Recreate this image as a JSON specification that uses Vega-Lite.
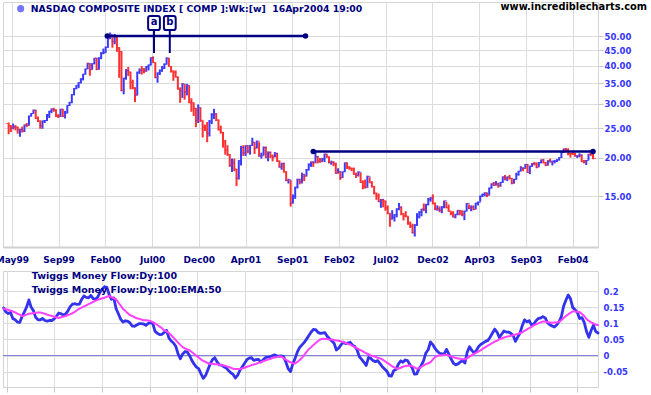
{
"$schema": "https://vega.github.io/schema/vega-lite/v6.json",
"background": "white",
"padding": {"left": -6, "top": 1, "right": 0, "bottom": 0},
"spacing": 24,
"bounds": "flush",
"resolve": {"scale": {"color": "independent"}, "legend": {"color": "independent"}},
"config": {"view": {"stroke": "#d4d4d4", "strokeWidth": 1}, "axis": {"gridColor": "#dcdcdc", "gridOpacity": 1, "title": null, "labelOverlap": false}},
"datasets": {
"tl": [{"d1": "2000-03-01", "d2": "2001-11-06", "v": 50}, {"d1": "2001-11-30", "d2": "2004-04-16", "v": 21}],
"mk": [{"d": "2000-07-24", "lab": "a", "lo": 44.0, "hi": 55.1}, {"d": "2000-09-11", "lab": "b", "lo": 44.0, "hi": 55.1}],
"w": [
{"d":"1999-04-30","o":25.91,"h":26.1,"l":23.9,"c":25.43,"t":0.148,"e":0.146},
{"d":"1999-05-07","o":25.43,"h":25.6,"l":24.3,"c":25.03,"t":0.135,"e":0.144},
{"d":"1999-05-14","o":25.03,"h":25.9,"l":24.8,"c":25.27,"t":0.131,"e":0.142},
{"d":"1999-05-21","o":25.27,"h":25.6,"l":24.6,"c":25.2,"t":0.134,"e":0.14},
{"d":"1999-05-28","o":25.2,"h":25.3,"l":24.0,"c":24.71,"t":0.115,"e":0.137},
{"d":"1999-06-04","o":24.71,"h":24.9,"l":23.45,"c":24.78,"t":0.111,"e":0.134},
{"d":"1999-06-11","o":24.78,"h":25.3,"l":24.2,"c":24.47,"t":0.104,"e":0.13},
{"d":"1999-06-18","o":24.47,"h":25.7,"l":24.3,"c":25.63,"t":0.103,"e":0.127},
{"d":"1999-06-25","o":25.63,"h":26.0,"l":25.2,"c":25.53,"t":0.121,"e":0.123},
{"d":"1999-07-02","o":25.53,"h":27.45,"l":25.5,"c":27.41,"t":0.135,"e":0.124},
{"d":"1999-07-09","o":27.41,"h":28.0,"l":27.3,"c":27.93,"t":0.151,"e":0.127},
{"d":"1999-07-16","o":27.93,"h":28.75,"l":27.9,"c":28.64,"t":0.173,"e":0.13},
{"d":"1999-07-23","o":28.64,"h":28.7,"l":26.8,"c":26.92,"t":0.15,"e":0.131},
{"d":"1999-07-30","o":26.92,"h":27.3,"l":26.2,"c":26.38,"t":0.139,"e":0.132},
{"d":"1999-08-06","o":26.38,"h":26.5,"l":24.9,"c":25.47,"t":0.118,"e":0.133},
{"d":"1999-08-13","o":25.47,"h":26.5,"l":24.9,"c":26.37,"t":0.111,"e":0.134},
{"d":"1999-08-20","o":26.37,"h":26.6,"l":26.0,"c":26.48,"t":0.111,"e":0.134},
{"d":"1999-08-27","o":26.48,"h":27.8,"l":26.4,"c":27.58,"t":0.115,"e":0.132},
{"d":"1999-09-03","o":27.58,"h":28.45,"l":27.0,"c":28.43,"t":0.109,"e":0.13},
{"d":"1999-09-10","o":28.43,"h":29.0,"l":28.0,"c":28.87,"t":0.107,"e":0.127},
{"d":"1999-09-17","o":28.87,"h":29.15,"l":28.3,"c":28.69,"t":0.109,"e":0.125},
{"d":"1999-09-24","o":28.69,"h":28.8,"l":27.2,"c":27.4,"t":0.109,"e":0.123},
{"d":"1999-10-01","o":27.4,"h":27.8,"l":27.0,"c":27.36,"t":0.114,"e":0.121},
{"d":"1999-10-08","o":27.36,"h":28.9,"l":27.2,"c":28.86,"t":0.122,"e":0.119},
{"d":"1999-10-15","o":28.86,"h":28.9,"l":27.2,"c":27.31,"t":0.132,"e":0.117},
{"d":"1999-10-22","o":27.31,"h":28.5,"l":26.9,"c":28.01,"t":0.13,"e":0.119},
{"d":"1999-10-29","o":28.01,"h":29.7,"l":28.0,"c":29.67,"t":0.126,"e":0.121},
{"d":"1999-11-05","o":29.67,"h":30.5,"l":29.6,"c":30.29,"t":0.129,"e":0.123},
{"d":"1999-11-12","o":30.29,"h":32.3,"l":30.2,"c":32.21,"t":0.139,"e":0.126},
{"d":"1999-11-19","o":32.21,"h":33.8,"l":32.0,"c":33.7,"t":0.152,"e":0.128},
{"d":"1999-11-26","o":33.7,"h":34.5,"l":33.5,"c":34.48,"t":0.16,"e":0.132},
{"d":"1999-12-03","o":34.48,"h":35.3,"l":33.8,"c":35.2,"t":0.161,"e":0.136},
{"d":"1999-12-10","o":35.2,"h":36.4,"l":35.0,"c":36.2,"t":0.159,"e":0.141},
{"d":"1999-12-17","o":36.2,"h":37.6,"l":35.8,"c":37.53,"t":0.16,"e":0.146},
{"d":"1999-12-24","o":37.53,"h":39.1,"l":37.4,"c":39.04,"t":0.175,"e":0.149},
{"d":"1999-12-31","o":39.04,"h":40.9,"l":39.0,"c":40.69,"t":0.185,"e":0.153},
{"d":"2000-01-07","o":40.69,"h":40.7,"l":37.1,"c":38.82,"t":0.181,"e":0.156},
{"d":"2000-01-14","o":38.82,"h":40.7,"l":38.8,"c":40.64,"t":0.18,"e":0.16},
{"d":"2000-01-21","o":40.64,"h":42.4,"l":40.4,"c":42.35,"t":0.187,"e":0.163},
{"d":"2000-01-28","o":42.35,"h":42.4,"l":38.7,"c":38.87,"t":0.177,"e":0.167},
{"d":"2000-02-04","o":38.87,"h":42.6,"l":38.8,"c":42.44,"t":0.175,"e":0.17},
{"d":"2000-02-11","o":42.44,"h":44.3,"l":42.0,"c":43.95,"t":0.182,"e":0.173},
{"d":"2000-02-18","o":43.95,"h":45.5,"l":43.6,"c":44.11,"t":0.197,"e":0.176},
{"d":"2000-02-25","o":44.11,"h":46.2,"l":44.1,"c":45.9,"t":0.207,"e":0.178},
{"d":"2000-03-03","o":45.9,"h":49.2,"l":45.8,"c":49.14,"t":0.214,"e":0.18},
{"d":"2000-03-10","o":49.14,"h":51.32,"l":48.8,"c":50.48,"t":0.212,"e":0.183},
{"d":"2000-03-17","o":50.48,"h":50.5,"l":45.8,"c":47.98,"t":0.189,"e":0.185},
{"d":"2000-03-24","o":47.98,"h":50.8,"l":47.0,"c":49.64,"t":0.175,"e":0.182},
{"d":"2000-03-31","o":49.64,"h":49.7,"l":44.4,"c":45.73,"t":0.179,"e":0.178},
{"d":"2000-04-07","o":45.73,"h":46.0,"l":36.5,"c":44.46,"t":0.146,"e":0.175},
{"d":"2000-04-14","o":44.46,"h":44.6,"l":33.0,"c":33.21,"t":0.13,"e":0.165},
{"d":"2000-04-21","o":33.21,"h":36.5,"l":32.27,"c":36.43,"t":0.113,"e":0.155},
{"d":"2000-04-28","o":36.43,"h":39.0,"l":36.0,"c":38.61,"t":0.104,"e":0.145},
{"d":"2000-05-05","o":38.61,"h":39.6,"l":37.0,"c":38.17,"t":0.108,"e":0.139},
{"d":"2000-05-12","o":38.17,"h":38.2,"l":33.5,"c":35.29,"t":0.107,"e":0.132},
{"d":"2000-05-19","o":35.29,"h":36.0,"l":33.5,"c":33.9,"t":0.102,"e":0.126},
{"d":"2000-05-26","o":33.9,"h":34.0,"l":30.42,"c":32.05,"t":0.092,"e":0.123},
{"d":"2000-06-02","o":32.05,"h":38.2,"l":32.0,"c":38.13,"t":0.091,"e":0.119},
{"d":"2000-06-09","o":38.13,"h":39.2,"l":37.6,"c":38.74,"t":0.095,"e":0.116},
{"d":"2000-06-16","o":38.74,"h":39.9,"l":37.4,"c":38.6,"t":0.099,"e":0.114},
{"d":"2000-06-23","o":38.6,"h":39.3,"l":37.8,"c":38.45,"t":0.099,"e":0.112},
{"d":"2000-06-30","o":38.45,"h":39.9,"l":38.2,"c":39.66,"t":0.098,"e":0.11},
{"d":"2000-07-07","o":39.66,"h":40.3,"l":38.6,"c":40.23,"t":0.094,"e":0.11},
{"d":"2000-07-14","o":40.23,"h":42.6,"l":40.1,"c":42.46,"t":0.1,"e":0.109},
{"d":"2000-07-21","o":42.46,"h":42.89,"l":40.8,"c":40.95,"t":0.102,"e":0.107},
{"d":"2000-07-28","o":40.95,"h":41.0,"l":36.4,"c":36.63,"t":0.099,"e":0.104},
{"d":"2000-08-04","o":36.63,"h":38.0,"l":35.2,"c":37.87,"t":0.075,"e":0.1},
{"d":"2000-08-11","o":37.87,"h":38.9,"l":37.3,"c":38.49,"t":0.069,"e":0.095},
{"d":"2000-08-18","o":38.49,"h":39.9,"l":38.2,"c":39.3,"t":0.065,"e":0.09},
{"d":"2000-08-25","o":39.3,"h":40.7,"l":39.0,"c":40.42,"t":0.066,"e":0.085},
{"d":"2000-09-01","o":40.42,"h":42.59,"l":40.4,"c":42.34,"t":0.072,"e":0.078},
{"d":"2000-09-08","o":42.34,"h":42.4,"l":39.7,"c":39.78,"t":0.078,"e":0.075},
{"d":"2000-09-15","o":39.78,"h":39.9,"l":38.0,"c":38.36,"t":0.055,"e":0.07},
{"d":"2000-09-22","o":38.36,"h":38.6,"l":35.7,"c":38.03,"t":0.045,"e":0.063},
{"d":"2000-09-29","o":38.03,"h":38.6,"l":36.6,"c":36.73,"t":0.039,"e":0.056},
{"d":"2000-10-06","o":36.73,"h":36.9,"l":33.4,"c":33.61,"t":0.029,"e":0.048},
{"d":"2000-10-13","o":33.61,"h":34.0,"l":30.26,"c":33.16,"t":0.005,"e":0.04},
{"d":"2000-10-20","o":33.16,"h":35.1,"l":31.4,"c":34.83,"t":-0.01,"e":0.033},
{"d":"2000-10-27","o":34.83,"h":34.8,"l":31.0,"c":32.78,"t":0.005,"e":0.026},
{"d":"2000-11-03","o":32.78,"h":34.9,"l":32.0,"c":34.51,"t":0.012,"e":0.022},
{"d":"2000-11-10","o":34.51,"h":34.5,"l":30.2,"c":30.28,"t":0.011,"e":0.019},
{"d":"2000-11-17","o":30.28,"h":31.3,"l":28.3,"c":30.27,"t":0.0,"e":0.016},
{"d":"2000-11-24","o":30.27,"h":30.3,"l":27.4,"c":29.04,"t":-0.015,"e":0.011},
{"d":"2000-12-01","o":29.04,"h":29.1,"l":25.2,"c":26.45,"t":-0.027,"e":0.005},
{"d":"2000-12-08","o":26.45,"h":29.9,"l":26.0,"c":29.17,"t":-0.036,"e":-0.001},
{"d":"2000-12-15","o":29.17,"h":29.2,"l":26.2,"c":26.53,"t":-0.041,"e":-0.006},
{"d":"2000-12-22","o":26.53,"h":26.5,"l":23.32,"c":25.17,"t":-0.057,"e":-0.012},
{"d":"2000-12-29","o":25.17,"h":25.7,"l":24.5,"c":24.71,"t":-0.071,"e":-0.017},
{"d":"2001-01-05","o":24.71,"h":26.2,"l":22.5,"c":24.07,"t":-0.062,"e":-0.02},
{"d":"2001-01-12","o":24.07,"h":26.6,"l":23.5,"c":26.26,"t":-0.044,"e":-0.024},
{"d":"2001-01-19","o":26.26,"h":28.0,"l":25.8,"c":27.7,"t":-0.026,"e":-0.026},
{"d":"2001-01-26","o":27.7,"h":28.92,"l":26.8,"c":27.81,"t":-0.013,"e":-0.026},
{"d":"2001-02-02","o":27.81,"h":28.0,"l":26.4,"c":26.6,"t":-0.007,"e":-0.027},
{"d":"2001-02-09","o":26.6,"h":26.7,"l":24.6,"c":24.7,"t":-0.02,"e":-0.027},
{"d":"2001-02-16","o":24.7,"h":25.5,"l":24.0,"c":24.25,"t":-0.029,"e":-0.029},
{"d":"2001-02-23","o":24.25,"h":24.3,"l":21.6,"c":22.62,"t":-0.03,"e":-0.03},
{"d":"2001-03-02","o":22.62,"h":22.9,"l":20.5,"c":21.17,"t":-0.035,"e":-0.031},
{"d":"2001-03-09","o":21.17,"h":22.0,"l":20.3,"c":20.52,"t":-0.039,"e":-0.033},
{"d":"2001-03-16","o":20.52,"h":20.6,"l":18.7,"c":18.9,"t":-0.047,"e":-0.036},
{"d":"2001-03-23","o":18.9,"h":19.9,"l":18.0,"c":19.28,"t":-0.054,"e":-0.038},
{"d":"2001-03-30","o":19.28,"h":19.9,"l":18.1,"c":18.4,"t":-0.059,"e":-0.041},
{"d":"2001-04-06","o":18.4,"h":18.4,"l":16.19,"c":17.2,"t":-0.07,"e":-0.042},
{"d":"2001-04-13","o":17.2,"h":19.65,"l":17.0,"c":19.61,"t":-0.061,"e":-0.042},
{"d":"2001-04-20","o":19.61,"h":21.9,"l":18.9,"c":21.63,"t":-0.045,"e":-0.042},
{"d":"2001-04-27","o":21.63,"h":22.0,"l":20.3,"c":20.75,"t":-0.035,"e":-0.04},
{"d":"2001-05-04","o":20.75,"h":22.0,"l":20.3,"c":21.92,"t":-0.024,"e":-0.038},
{"d":"2001-05-11","o":21.92,"h":22.0,"l":20.7,"c":21.07,"t":-0.013,"e":-0.035},
{"d":"2001-05-18","o":21.07,"h":22.0,"l":20.5,"c":21.99,"t":-0.008,"e":-0.033},
{"d":"2001-05-25","o":21.99,"h":23.28,"l":21.9,"c":22.51,"t":-0.007,"e":-0.03},
{"d":"2001-06-01","o":22.51,"h":22.5,"l":20.6,"c":21.49,"t":-0.015,"e":-0.028},
{"d":"2001-06-08","o":21.49,"h":22.8,"l":21.5,"c":22.65,"t":-0.013,"e":-0.026},
{"d":"2001-06-15","o":22.65,"h":22.5,"l":20.2,"c":20.28,"t":-0.012,"e":-0.023},
{"d":"2001-06-22","o":20.28,"h":20.8,"l":19.9,"c":20.34,"t":-0.02,"e":-0.021},
{"d":"2001-06-29","o":20.34,"h":21.8,"l":20.4,"c":21.61,"t":-0.014,"e":-0.018},
{"d":"2001-07-06","o":21.61,"h":21.8,"l":20.0,"c":20.04,"t":-0.007,"e":-0.016},
{"d":"2001-07-13","o":20.04,"h":21.0,"l":19.5,"c":20.84,"t":-0.005,"e":-0.013},
{"d":"2001-07-20","o":20.84,"h":21.0,"l":20.0,"c":20.29,"t":-0.004,"e":-0.011},
{"d":"2001-07-27","o":20.29,"h":20.5,"l":19.5,"c":20.15,"t":-0.001,"e":-0.008},
{"d":"2001-08-03","o":20.15,"h":20.9,"l":20.1,"c":20.66,"t":0.002,"e":-0.006},
{"d":"2001-08-10","o":20.66,"h":20.8,"l":19.4,"c":19.56,"t":-0.001,"e":-0.005},
{"d":"2001-08-17","o":19.56,"h":19.6,"l":18.6,"c":18.67,"t":-0.002,"e":-0.003},
{"d":"2001-08-24","o":18.67,"h":19.3,"l":18.3,"c":19.16,"t":-0.001,"e":-0.003},
{"d":"2001-08-31","o":19.16,"h":19.3,"l":17.9,"c":18.05,"t":-0.004,"e":-0.008},
{"d":"2001-09-07","o":18.05,"h":18.1,"l":16.8,"c":16.87,"t":-0.021,"e":-0.013},
{"d":"2001-09-14","o":16.87,"h":17.1,"l":16.5,"c":16.95,"t":-0.041,"e":-0.018},
{"d":"2001-09-21","o":16.95,"h":16.9,"l":13.87,"c":14.23,"t":-0.05,"e":-0.021},
{"d":"2001-09-28","o":14.23,"h":15.2,"l":14.2,"c":14.99,"t":-0.026,"e":-0.024},
{"d":"2001-10-05","o":14.99,"h":16.1,"l":14.7,"c":16.05,"t":-0.009,"e":-0.025},
{"d":"2001-10-12","o":16.05,"h":17.1,"l":15.9,"c":17.03,"t":0.011,"e":-0.02},
{"d":"2001-10-19","o":17.03,"h":17.1,"l":16.4,"c":16.71,"t":0.025,"e":-0.014},
{"d":"2001-10-26","o":16.71,"h":17.9,"l":16.5,"c":17.68,"t":0.033,"e":-0.007},
{"d":"2001-11-02","o":17.68,"h":17.7,"l":16.8,"c":17.45,"t":0.041,"e":0.002},
{"d":"2001-11-09","o":17.45,"h":18.4,"l":17.4,"c":18.28,"t":0.051,"e":0.011},
{"d":"2001-11-16","o":18.28,"h":19.2,"l":18.2,"c":18.99,"t":0.062,"e":0.02},
{"d":"2001-11-23","o":18.99,"h":19.45,"l":18.7,"c":19.41,"t":0.073,"e":0.026},
{"d":"2001-11-30","o":19.41,"h":19.5,"l":18.7,"c":19.31,"t":0.081,"e":0.033},
{"d":"2001-12-07","o":19.31,"h":20.99,"l":19.2,"c":20.21,"t":0.08,"e":0.039},
{"d":"2001-12-14","o":20.21,"h":20.3,"l":19.2,"c":19.53,"t":0.072,"e":0.045},
{"d":"2001-12-21","o":19.53,"h":20.0,"l":19.3,"c":19.45,"t":0.069,"e":0.05},
{"d":"2001-12-28","o":19.45,"h":20.0,"l":19.4,"c":19.87,"t":0.07,"e":0.052},
{"d":"2002-01-04","o":19.87,"h":20.65,"l":19.4,"c":20.59,"t":0.071,"e":0.051},
{"d":"2002-01-11","o":20.59,"h":20.6,"l":20.0,"c":20.22,"t":0.06,"e":0.051},
{"d":"2002-01-18","o":20.22,"h":20.2,"l":19.2,"c":19.3,"t":0.052,"e":0.05},
{"d":"2002-01-25","o":19.3,"h":19.6,"l":19.0,"c":19.37,"t":0.045,"e":0.05},
{"d":"2002-02-01","o":19.37,"h":19.5,"l":18.8,"c":19.11,"t":0.038,"e":0.048},
{"d":"2002-02-08","o":19.11,"h":19.3,"l":17.75,"c":17.82,"t":0.017,"e":0.047},
{"d":"2002-02-15","o":17.82,"h":18.5,"l":17.8,"c":18.06,"t":0.023,"e":0.046},
{"d":"2002-02-22","o":18.06,"h":18.1,"l":16.96,"c":17.24,"t":0.033,"e":0.044},
{"d":"2002-03-01","o":17.24,"h":18.05,"l":17.2,"c":18.02,"t":0.041,"e":0.042},
{"d":"2002-03-08","o":18.02,"h":19.3,"l":18.0,"c":19.29,"t":0.037,"e":0.039},
{"d":"2002-03-15","o":19.29,"h":19.3,"l":18.4,"c":18.68,"t":0.039,"e":0.036},
{"d":"2002-03-22","o":18.68,"h":18.8,"l":18.3,"c":18.51,"t":0.041,"e":0.034},
{"d":"2002-03-29","o":18.51,"h":18.6,"l":18.1,"c":18.45,"t":0.032,"e":0.03},
{"d":"2002-04-05","o":18.45,"h":18.6,"l":17.6,"c":17.7,"t":0.028,"e":0.026},
{"d":"2002-04-12","o":17.7,"h":17.9,"l":17.2,"c":17.56,"t":0.018,"e":0.022},
{"d":"2002-04-19","o":17.56,"h":18.1,"l":17.4,"c":17.96,"t":-0.004,"e":0.018},
{"d":"2002-04-26","o":17.96,"h":17.9,"l":16.6,"c":16.63,"t":-0.012,"e":0.015},
{"d":"2002-05-03","o":16.63,"h":16.9,"l":15.8,"c":16.13,"t":-0.021,"e":0.011},
{"d":"2002-05-10","o":16.13,"h":17.0,"l":15.9,"c":16.0,"t":-0.031,"e":0.007},
{"d":"2002-05-17","o":16.0,"h":17.5,"l":16.0,"c":17.41,"t":-0.006,"e":0.004},
{"d":"2002-05-24","o":17.41,"h":17.3,"l":16.55,"c":16.61,"t":-0.009,"e":0.0},
{"d":"2002-05-31","o":16.61,"h":16.8,"l":16.0,"c":16.15,"t":-0.016,"e":-0.002},
{"d":"2002-06-07","o":16.15,"h":16.2,"l":15.2,"c":15.35,"t":-0.019,"e":-0.004},
{"d":"2002-06-14","o":15.35,"h":15.4,"l":14.6,"c":15.04,"t":-0.016,"e":-0.007},
{"d":"2002-06-21","o":15.04,"h":15.3,"l":14.35,"c":14.4,"t":-0.025,"e":-0.009},
{"d":"2002-06-28","o":14.4,"h":14.7,"l":13.75,"c":14.63,"t":-0.035,"e":-0.012},
{"d":"2002-07-05","o":14.63,"h":14.7,"l":13.8,"c":14.48,"t":-0.042,"e":-0.017},
{"d":"2002-07-12","o":14.48,"h":14.5,"l":13.45,"c":13.74,"t":-0.049,"e":-0.022},
{"d":"2002-07-19","o":13.74,"h":14.0,"l":13.1,"c":13.19,"t":-0.063,"e":-0.027},
{"d":"2002-07-26","o":13.19,"h":13.2,"l":11.92,"c":12.62,"t":-0.064,"e":-0.032},
{"d":"2002-08-02","o":12.62,"h":13.5,"l":12.6,"c":12.8,"t":-0.047,"e":-0.036},
{"d":"2002-08-09","o":12.8,"h":13.1,"l":12.4,"c":13.06,"t":-0.043,"e":-0.04},
{"d":"2002-08-16","o":13.06,"h":13.7,"l":12.8,"c":13.61,"t":-0.027,"e":-0.041},
{"d":"2002-08-23","o":13.61,"h":14.25,"l":13.5,"c":13.8,"t":-0.017,"e":-0.038},
{"d":"2002-08-30","o":13.8,"h":13.9,"l":13.0,"c":13.15,"t":-0.021,"e":-0.035},
{"d":"2002-09-06","o":13.15,"h":13.2,"l":12.5,"c":12.95,"t":-0.014,"e":-0.033},
{"d":"2002-09-13","o":12.95,"h":13.4,"l":12.8,"c":12.91,"t":-0.016,"e":-0.032},
{"d":"2002-09-20","o":12.91,"h":12.9,"l":12.1,"c":12.21,"t":-0.028,"e":-0.031},
{"d":"2002-09-27","o":12.21,"h":12.4,"l":11.8,"c":11.99,"t":-0.038,"e":-0.033},
{"d":"2002-10-04","o":11.99,"h":12.2,"l":11.35,"c":11.39,"t":-0.058,"e":-0.037},
{"d":"2002-10-11","o":11.39,"h":12.15,"l":11.08,"c":12.1,"t":-0.057,"e":-0.041},
{"d":"2002-10-18","o":12.1,"h":13.2,"l":12.0,"c":12.87,"t":-0.041,"e":-0.04},
{"d":"2002-10-25","o":12.87,"h":13.4,"l":12.7,"c":13.31,"t":-0.031,"e":-0.035},
{"d":"2002-11-01","o":13.31,"h":13.65,"l":12.9,"c":13.6,"t":-0.016,"e":-0.031},
{"d":"2002-11-08","o":13.6,"h":14.2,"l":13.4,"c":13.59,"t":0.008,"e":-0.027},
{"d":"2002-11-15","o":13.59,"h":14.15,"l":13.2,"c":14.11,"t":0.018,"e":-0.024},
{"d":"2002-11-22","o":14.11,"h":14.8,"l":14.0,"c":14.68,"t":0.042,"e":-0.021},
{"d":"2002-11-29","o":14.68,"h":14.9,"l":14.4,"c":14.79,"t":0.034,"e":-0.013},
{"d":"2002-12-06","o":14.79,"h":15.21,"l":14.1,"c":14.22,"t":0.022,"e":-0.005},
{"d":"2002-12-13","o":14.22,"h":14.3,"l":13.5,"c":13.62,"t":0.013,"e":-0.001},
{"d":"2002-12-20","o":13.62,"h":14.0,"l":13.45,"c":13.63,"t":0.007,"e":0.0},
{"d":"2002-12-27","o":13.63,"h":13.9,"l":13.3,"c":13.48,"t":0.005,"e":0.001},
{"d":"2003-01-03","o":13.48,"h":13.9,"l":13.2,"c":13.87,"t":0.005,"e":0.002},
{"d":"2003-01-10","o":13.87,"h":14.5,"l":13.7,"c":14.48,"t":0.019,"e":0.002},
{"d":"2003-01-17","o":14.48,"h":14.38,"l":13.7,"c":13.76,"t":0.004,"e":0.0},
{"d":"2003-01-24","o":13.76,"h":14.1,"l":13.35,"c":13.42,"t":-0.011,"e":-0.003},
{"d":"2003-01-31","o":13.42,"h":13.4,"l":13.0,"c":13.21,"t":-0.024,"e":-0.005},
{"d":"2003-02-07","o":13.21,"h":13.4,"l":12.8,"c":12.83,"t":-0.029,"e":-0.008},
{"d":"2003-02-14","o":12.83,"h":13.1,"l":12.7,"c":13.1,"t":-0.026,"e":-0.009},
{"d":"2003-02-21","o":13.1,"h":13.5,"l":13.0,"c":13.49,"t":-0.02,"e":-0.01},
{"d":"2003-02-28","o":13.49,"h":13.5,"l":13.0,"c":13.37,"t":-0.016,"e":-0.012},
{"d":"2003-03-07","o":13.37,"h":13.5,"l":12.9,"c":13.05,"t":-0.023,"e":-0.012},
{"d":"2003-03-14","o":13.05,"h":13.45,"l":12.53,"c":13.4,"t":0.01,"e":-0.008},
{"d":"2003-03-21","o":13.4,"h":14.25,"l":13.4,"c":14.21,"t":0.027,"e":-0.004},
{"d":"2003-03-28","o":14.21,"h":14.1,"l":13.6,"c":13.7,"t":0.016,"e":0.001},
{"d":"2003-04-04","o":13.7,"h":14.0,"l":13.4,"c":13.83,"t":0.008,"e":0.005},
{"d":"2003-04-11","o":13.83,"h":14.0,"l":13.5,"c":13.58,"t":0.016,"e":0.009},
{"d":"2003-04-18","o":13.58,"h":14.25,"l":13.6,"c":14.25,"t":0.028,"e":0.013},
{"d":"2003-04-25","o":14.25,"h":14.4,"l":14.0,"c":14.34,"t":0.035,"e":0.017},
{"d":"2003-05-02","o":14.34,"h":15.05,"l":14.4,"c":15.02,"t":0.039,"e":0.022},
{"d":"2003-05-09","o":15.02,"h":15.3,"l":14.9,"c":15.2,"t":0.044,"e":0.026},
{"d":"2003-05-16","o":15.2,"h":15.45,"l":15.0,"c":15.38,"t":0.047,"e":0.031},
{"d":"2003-05-23","o":15.38,"h":15.4,"l":14.9,"c":15.1,"t":0.057,"e":0.035},
{"d":"2003-05-30","o":15.1,"h":16.0,"l":15.1,"c":15.95,"t":0.07,"e":0.039},
{"d":"2003-06-06","o":15.95,"h":16.5,"l":15.9,"c":16.46,"t":0.082,"e":0.043},
{"d":"2003-06-13","o":16.46,"h":16.7,"l":16.2,"c":16.26,"t":0.073,"e":0.046},
{"d":"2003-06-20","o":16.26,"h":16.8,"l":16.3,"c":16.44,"t":0.056,"e":0.05},
{"d":"2003-06-27","o":16.44,"h":16.6,"l":16.0,"c":16.25,"t":0.066,"e":0.053},
{"d":"2003-07-04","o":16.25,"h":16.7,"l":16.1,"c":16.64,"t":0.076,"e":0.056},
{"d":"2003-07-11","o":16.64,"h":17.4,"l":16.6,"c":17.33,"t":0.073,"e":0.058},
{"d":"2003-07-18","o":17.33,"h":17.6,"l":16.9,"c":17.08,"t":0.073,"e":0.06},
{"d":"2003-07-25","o":17.08,"h":17.4,"l":16.8,"c":17.31,"t":0.069,"e":0.061},
{"d":"2003-08-01","o":17.31,"h":17.6,"l":17.0,"c":17.15,"t":0.063,"e":0.063},
{"d":"2003-08-08","o":17.15,"h":17.2,"l":16.4,"c":16.53,"t":0.044,"e":0.065},
{"d":"2003-08-15","o":16.53,"h":17.1,"l":16.5,"c":17.02,"t":0.057,"e":0.067},
{"d":"2003-08-22","o":17.02,"h":17.9,"l":17.0,"c":17.65,"t":0.07,"e":0.07},
{"d":"2003-08-29","o":17.65,"h":18.15,"l":17.5,"c":18.1,"t":0.093,"e":0.072},
{"d":"2003-09-05","o":18.1,"h":18.8,"l":18.1,"c":18.58,"t":0.111,"e":0.077},
{"d":"2003-09-12","o":18.58,"h":18.6,"l":18.1,"c":18.49,"t":0.105,"e":0.081},
{"d":"2003-09-19","o":18.49,"h":19.1,"l":18.4,"c":19.05,"t":0.108,"e":0.085},
{"d":"2003-09-26","o":19.05,"h":19.1,"l":17.9,"c":17.92,"t":0.096,"e":0.089},
{"d":"2003-10-03","o":17.92,"h":18.85,"l":17.7,"c":18.8,"t":0.098,"e":0.094},
{"d":"2003-10-10","o":18.8,"h":19.25,"l":18.7,"c":19.15,"t":0.108,"e":0.097},
{"d":"2003-10-17","o":19.15,"h":19.4,"l":18.9,"c":19.12,"t":0.115,"e":0.1},
{"d":"2003-10-24","o":19.12,"h":19.35,"l":18.5,"c":18.65,"t":0.117,"e":0.103},
{"d":"2003-10-31","o":18.65,"h":19.4,"l":18.7,"c":19.32,"t":0.121,"e":0.106},
{"d":"2003-11-07","o":19.32,"h":19.75,"l":19.2,"c":19.7,"t":0.117,"e":0.105},
{"d":"2003-11-14","o":19.7,"h":19.85,"l":19.2,"c":19.3,"t":0.102,"e":0.104},
{"d":"2003-11-21","o":19.3,"h":19.4,"l":18.8,"c":18.93,"t":0.096,"e":0.103},
{"d":"2003-11-28","o":18.93,"h":19.65,"l":18.9,"c":19.6,"t":0.092,"e":0.102},
{"d":"2003-12-05","o":19.6,"h":19.9,"l":19.35,"c":19.37,"t":0.089,"e":0.103},
{"d":"2003-12-12","o":19.37,"h":19.6,"l":18.9,"c":19.49,"t":0.095,"e":0.103},
{"d":"2003-12-19","o":19.49,"h":19.7,"l":19.2,"c":19.51,"t":0.105,"e":0.104},
{"d":"2003-12-26","o":19.51,"h":19.8,"l":19.4,"c":19.74,"t":0.12,"e":0.11},
{"d":"2004-01-02","o":19.74,"h":20.1,"l":19.6,"c":20.06,"t":0.153,"e":0.117},
{"d":"2004-01-09","o":20.06,"h":20.9,"l":20.0,"c":20.87,"t":0.172,"e":0.123},
{"d":"2004-01-16","o":20.87,"h":21.45,"l":20.8,"c":21.4,"t":0.188,"e":0.128},
{"d":"2004-01-23","o":21.4,"h":21.53,"l":21.1,"c":21.24,"t":0.177,"e":0.133},
{"d":"2004-01-30","o":21.24,"h":21.5,"l":20.4,"c":20.66,"t":0.149,"e":0.137},
{"d":"2004-02-06","o":20.66,"h":20.75,"l":20.05,"c":20.64,"t":0.143,"e":0.137},
{"d":"2004-02-13","o":20.64,"h":21.0,"l":20.45,"c":20.53,"t":0.134,"e":0.136},
{"d":"2004-02-20","o":20.53,"h":20.8,"l":20.2,"c":20.29,"t":0.115,"e":0.135},
{"d":"2004-02-27","o":20.29,"h":20.4,"l":20.0,"c":20.29,"t":0.118,"e":0.129},
{"d":"2004-03-05","o":20.29,"h":20.7,"l":20.1,"c":20.47,"t":0.103,"e":0.123},
{"d":"2004-03-12","o":20.47,"h":20.5,"l":19.4,"c":19.43,"t":0.075,"e":0.113},
{"d":"2004-03-19","o":19.43,"h":19.7,"l":19.2,"c":19.4,"t":0.057,"e":0.108},
{"d":"2004-03-26","o":19.4,"h":19.7,"l":18.97,"c":19.6,"t":0.078,"e":0.103},
{"d":"2004-04-02","o":19.6,"h":20.6,"l":19.7,"c":20.57,"t":0.094,"e":0.1},
{"d":"2004-04-09","o":20.57,"h":20.8,"l":20.3,"c":20.52,"t":0.075,"e":0.096},
{"d":"2004-04-16","o":20.52,"h":20.6,"l":19.8,"c":19.95,"t":0.07,"e":0.095}
]},
"vconcat": [
{
"width": 595, "height": 245,
"title": {"text": "www.incrediblecharts.com", "anchor": "end", "frame": "group", "dx": 49, "offset": -10, "font": "DejaVu Sans", "fontSize": 9.8, "fontWeight": "bold", "color": "#000000"},
"layer": [
{"data": {"name": "w"}, "mark": {"type": "bar", "width": 2},
 "encoding": {
  "x": {"field": "d", "type": "temporal",
   "scale": {"domain": [{"year": 1999, "month": 4, "date": 28, "utc": true}, {"year": 2004, "month": 4, "date": 16, "utc": true}]},
   "axis": {"values": [{"year":1999,"month":5,"date":10,"utc":true},{"year":1999,"month":10,"date":2,"utc":true},{"year":2000,"month":2,"date":24,"utc":true},{"year":2000,"month":7,"date":18,"utc":true},{"year":2000,"month":12,"date":10,"utc":true},{"year":2001,"month":5,"date":4,"utc":true},{"year":2001,"month":9,"date":26,"utc":true},{"year":2002,"month":2,"date":18,"utc":true},{"year":2002,"month":7,"date":13,"utc":true},{"year":2002,"month":12,"date":5,"utc":true},{"year":2003,"month":4,"date":29,"utc":true},{"year":2003,"month":9,"date":21,"utc":true},{"year":2004,"month":2,"date":13,"utc":true}],
    "tickCount": 30, "labelExpr": "utcFormat(datum.value - 345600000, '%b%y')", "grid": true, "ticks": false, "tickSize": 0, "domain": true, "domainColor": "#d0d0d0", "domainWidth": 2,
    "labelFont": "DejaVu Sans", "labelFontSize": 9, "labelFontWeight": "bold", "labelColor": "#000080", "labelPadding": 8, "labelOverlap": false, "labelFlush": false, "title": null}},
  "y": {"field": "l", "type": "quantitative", "scale": {"type": "log", "domain": [10.24, 64.56], "nice": false},
   "axis": {"orient": "right", "values": [15, 20, 25, 30, 35, 40, 45, 50], "tickCount": 20, "format": ".2f", "grid": true, "ticks": true, "tickSize": 5, "tickColor": "#c8c8c8", "labelPadding": 1, "domain": false, "labelOverlap": false,
    "labelFont": "DejaVu Sans", "labelFontSize": 8.5, "labelFontWeight": "bold", "labelColor": "#3535ff", "title": null}},
  "y2": {"field": "h"},
  "color": {"condition": {"test": "datum.c < datum.o", "value": "#ff3030"}, "datum": "NASDAQ COMPOSITE INDEX [ COMP ]:Wk:[w]\u00a0 16Apr2004 19:00", "type": "nominal",
   "scale": {"range": ["#3a3aff"]},
   "legend": {"orient": "none", "legendX": 13, "legendY": 2, "title": null, "symbolType": "circle", "symbolSize": 50, "symbolStrokeWidth": 0,
    "labelFont": "DejaVu Sans", "labelFontSize": 9.3, "labelFontWeight": "bold", "labelColor": "#000080", "labelOffset": 5.5, "labelLimit": 600, "padding": 0}}
 }},
{"data": {"name": "w"}, "mark": {"type": "tick", "orient": "horizontal", "size": 2.5, "thickness": 1, "xOffset": -1.8},
 "encoding": {"x": {"field": "d", "type": "temporal"}, "y": {"field": "o", "type": "quantitative"},
  "color": {"condition": {"test": "datum.c < datum.o", "value": "#ff3030"}, "datum": "NASDAQ COMPOSITE INDEX [ COMP ]:Wk:[w]\u00a0 16Apr2004 19:00", "type": "nominal"}}},
{"data": {"name": "w"}, "mark": {"type": "tick", "orient": "horizontal", "size": 2.5, "thickness": 1, "xOffset": 1.8},
 "encoding": {"x": {"field": "d", "type": "temporal"}, "y": {"field": "c", "type": "quantitative"},
  "color": {"condition": {"test": "datum.c < datum.o", "value": "#ff3030"}, "datum": "NASDAQ COMPOSITE INDEX [ COMP ]:Wk:[w]\u00a0 16Apr2004 19:00", "type": "nominal"}}},
{"data": {"name": "tl"}, "mark": {"type": "rule", "color": "#000080", "strokeWidth": 2.5},
 "encoding": {"x": {"field": "d1", "type": "temporal"}, "x2": {"field": "d2"}, "y": {"field": "v", "type": "quantitative"}}},
{"data": {"name": "tl"}, "mark": {"type": "point", "filled": true, "color": "#000080", "size": 30, "opacity": 1},
 "encoding": {"x": {"field": "d1", "type": "temporal"}, "y": {"field": "v", "type": "quantitative"}}},
{"data": {"name": "tl"}, "mark": {"type": "point", "filled": true, "color": "#000080", "size": 30, "opacity": 1},
 "encoding": {"x": {"field": "d2", "type": "temporal"}, "y": {"field": "v", "type": "quantitative"}}},
{"data": {"name": "mk"}, "mark": {"type": "rule", "color": "#000080", "strokeWidth": 2},
 "encoding": {"x": {"field": "d", "type": "temporal"}, "y": {"field": "lo", "type": "quantitative"}, "y2": {"field": "hi"}}},
{"data": {"name": "mk"}, "mark": {"type": "point", "shape": "M -0.55 -1 L 0.55 -1 Q 0.84 -1 0.84 -0.7 L 0.84 0.7 Q 0.84 1 0.55 1 L -0.55 1 Q -0.84 1 -0.84 0.7 L -0.84 -0.7 Q -0.84 -1 -0.55 -1 Z", "size": 196, "filled": true, "fill": "white", "stroke": "#000080", "strokeWidth": 2, "opacity": 1},
 "encoding": {"x": {"field": "d", "type": "temporal"}, "y": {"field": "hi", "type": "quantitative"}}},
{"data": {"name": "mk"}, "mark": {"type": "text", "font": "DejaVu Sans", "fontWeight": "bold", "fontSize": 10, "color": "#000080", "baseline": "middle", "align": "center", "dy": -1},
 "encoding": {"x": {"field": "d", "type": "temporal"}, "y": {"field": "hi", "type": "quantitative"}, "text": {"field": "lab"}}}
]
},
{
"width": 595, "height": 116,
"layer": [
{"data": {"values": [{}]}, "mark": {"type": "rule", "color": "#8080e0", "strokeWidth": 1},
 "encoding": {"y": {"datum": 0, "type": "quantitative", "scale": {"domain": [-0.098, 0.263], "nice": false, "zero": false},
   "axis": {"orient": "right", "values": [-0.05, 0, 0.05, 0.1, 0.15, 0.2], "tickCount": 20, "labelExpr": "'' + datum.value", "grid": true, "ticks": false, "tickSize": 0, "labelPadding": 5, "domain": false, "labelOverlap": false,
    "labelFont": "DejaVu Sans", "labelFontSize": 8.5, "labelFontWeight": "bold", "labelColor": "#3535ff", "title": null}}}},
{"data": {"name": "w"}, "mark": {"type": "trail", "size": 2.8},
 "encoding": {
  "x": {"field": "d", "type": "temporal",
   "scale": {"domain": [{"year": 1999, "month": 4, "date": 28, "utc": true}, {"year": 2004, "month": 4, "date": 16, "utc": true}]},
   "axis": {"values": [{"year":1999,"month":5,"date":10,"utc":true},{"year":1999,"month":10,"date":2,"utc":true},{"year":2000,"month":2,"date":24,"utc":true},{"year":2000,"month":7,"date":18,"utc":true},{"year":2000,"month":12,"date":10,"utc":true},{"year":2001,"month":5,"date":4,"utc":true},{"year":2001,"month":9,"date":26,"utc":true},{"year":2002,"month":2,"date":18,"utc":true},{"year":2002,"month":7,"date":13,"utc":true},{"year":2002,"month":12,"date":5,"utc":true},{"year":2003,"month":4,"date":29,"utc":true},{"year":2003,"month":9,"date":21,"utc":true},{"year":2004,"month":2,"date":13,"utc":true}],
    "tickCount": 30, "labels": false, "grid": true, "ticks": true, "tickSize": 5, "tickColor": "#c8c8c8", "domain": false, "title": null}},
  "y": {"field": "t", "type": "quantitative"},
  "color": {"datum": "Twiggs Money Flow:Dy:100", "type": "nominal",
   "scale": {"domain": ["Twiggs Money Flow:Dy:100", "Twiggs Money Flow:Dy:100:EMA:50"], "range": ["#3333ee", "#ff40ff"]},
   "legend": {"orient": "none", "legendX": 13.5, "legendY": 0, "title": null, "symbolType": "circle", "symbolSize": 50, "symbolStrokeWidth": 0,
    "labelFont": "DejaVu Sans", "labelFontSize": 9.5, "labelFontWeight": "bold", "labelColor": "#000080", "labelOffset": 5.8, "labelLimit": 600, "padding": 0, "rowPadding": 3}}
 }},
{"data": {"name": "w"}, "mark": {"type": "trail", "size": 2},
 "encoding": {"x": {"field": "d", "type": "temporal"}, "y": {"field": "e", "type": "quantitative"},
  "color": {"datum": "Twiggs Money Flow:Dy:100:EMA:50", "type": "nominal"}}}
]
}
]
}
